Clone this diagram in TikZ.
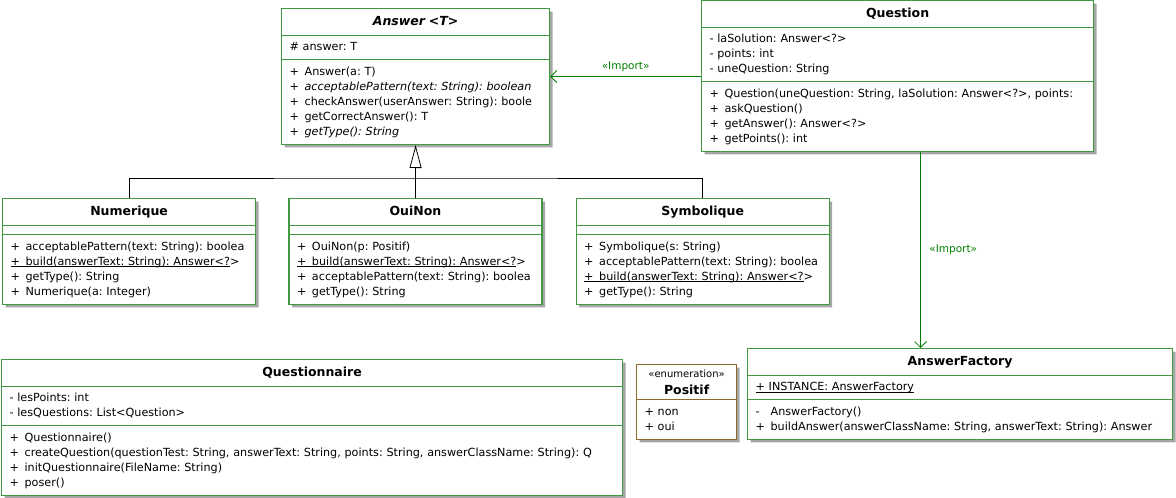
\documentclass[tikz,border=0pt]{standalone}
\usepackage{fontspec}
\setmainfont{DejaVu Sans}
\usetikzlibrary{arrows.meta,positioning,shapes.multipart,shadows}

\definecolor{umlgreen}{RGB}{64,152,64}
\definecolor{umlbrown}{RGB}{140,104,48}
\definecolor{importgreen}{RGB}{0,128,0}

\newcommand{\umlfont}{\frenchspacing\fontsize{11.2}{15}\selectfont}
\newcommand{\umltitle}[1]{\centering\fontsize{12.5}{17}\selectfont\bfseries\strut #1\par}
\newcommand{\umlop}[1]{\strut\makebox[15pt][l]{#1}}
\newcommand{\umlunder}[1]{\strut\setbox0\hbox{#1}\rlap{\rule[-1.8pt]{\wd0}{0.6pt}}\box0}
\newcommand{\umlstatic}[1]{\umlunder{\makebox[15pt][l]{+}#1}}

\begin{document}
\begin{tikzpicture}[
  x=1pt, y=-1pt,
  umlclass/.style={draw=umlgreen,line width=1.2pt,fill=white,rectangle split,
    rectangle split parts=3,align=left,inner xsep=8pt,inner ysep=4.2pt,
    font=\umlfont,anchor=north west,
    drop shadow={shadow xshift=3pt,shadow yshift=-3pt,fill=black!35,opacity=1}},
  imp/.style={draw=importgreen,line width=0.8pt,-{Straight Barb[length=6pt,width=12pt]}},
  implabel/.style={text=importgreen,font=\fontsize{10.5}{12}\selectfont},
  gen/.style={line width=0.8pt,-{Triangle[open,length=23pt,width=12pt]}},
  assoc/.style={line width=0.8pt}
]
\useasboundingbox (0,0) rectangle (1176,498);

% abstract class and its user
\node[umlclass,text width=252pt] (answer) at (281,8) {\umltitle{\itshape Answer <T>}
  \nodepart{two}\strut\# answer: T
  \nodepart{three}\umlop{+}Answer(a: T)\\
  \umlop{+}\textit{acceptablePattern(text: String): boolean}\\
  \umlop{+}checkAnswer(userAnswer: String): boole\\
  \umlop{+}getCorrectAnswer(): T\\
  \umlop{+}\textit{getType(): String}};
\node[umlclass,text width=376pt] (question) at (701,0) {\umltitle{Question}
  \nodepart{two}\strut- laSolution: Answer<?>\\
  \strut- points: int\\
  \strut- uneQuestion: String
  \nodepart{three}\umlop{+}Question(uneQuestion: String, laSolution: Answer<?>, points:\\
  \umlop{+}askQuestion()\\
  \umlop{+}getAnswer(): Answer<?>\\
  \umlop{+}getPoints(): int};

% subclasses
\node[umlclass,text width=237pt] (numerique) at (2,198) {\umltitle{Numerique}
  \nodepart{two}
  \nodepart{three}\umlop{+}acceptablePattern(text: String): boolea\\
  \umlstatic{build(answerText: String): Answer<?}>\\
  \umlop{+}getType(): String\\
  \umlop{+}Numerique(a: Integer)};
\node[umlclass,text width=237pt,right=32.2pt of numerique] (ouinon) {\umltitle{OuiNon}
  \nodepart{two}
  \nodepart{three}\umlop{+}OuiNon(p: Positif)\\
  \umlstatic{build(answerText: String): Answer<?}>\\
  \umlop{+}acceptablePattern(text: String): boolea\\
  \umlop{+}getType(): String};
\node[umlclass,text width=237pt,right=33pt of ouinon] (symbolique) {\umltitle{Symbolique}
  \nodepart{two}
  \nodepart{three}\umlop{+}Symbolique(s: String)\\
  \umlop{+}acceptablePattern(text: String): boolea\\
  \umlstatic{build(answerText: String): Answer<?}>\\
  \umlop{+}getType(): String};

% bottom row
\node[umlclass,text width=605pt] (questionnaire) at (1,359) {\umltitle{Questionnaire}
  \nodepart{two}\strut- lesPoints: int\\
  \strut- lesQuestions: List<Question>
  \nodepart{three}\umlop{+}Questionnaire()\\
  \umlop{+}createQuestion(questionTest: String, answerText: String, points: String, answerClassName: String): Q\\
  \umlop{+}initQuestionnaire(FileName: String)\\
  \umlop{+}poser()};
\node[umlclass,draw=umlbrown,rectangle split parts=2,text width=84pt] (positif) at (636,364)
  {\centering\fontsize{10}{12}\selectfont\strut«enumeration»\\
  \fontsize{12.5}{17}\selectfont\bfseries Positif\par
  \nodepart{two}\strut+ non\\
  \strut+ oui};
\node[umlclass,text width=409pt] (factory) at (747,348) {\umltitle{AnswerFactory}
  \nodepart{two}\umlunder{+ INSTANCE: AnswerFactory}
  \nodepart{three}\umlop{-}AnswerFactory()\\
  \umlop{+}buildAnswer(answerClassName: String, answerText: String): Answer};

% connectors
\coordinate (hub) at ([yshift=-33pt]answer.south);
\draw[gen] (ouinon.north) -- (answer.south);
\draw[assoc] (numerique.north) |- (hub) -| (symbolique.north);
\draw[imp] (question.west |- answer.east) -- node[above=1pt,implabel]{«Import»} (answer.east);
\draw[imp] ([xshift=23pt]question.south) -- node[right,xshift=5pt,implabel]{«Import»}
  ([xshift=23pt]question.south |- factory.north);
\end{tikzpicture}
\end{document}
